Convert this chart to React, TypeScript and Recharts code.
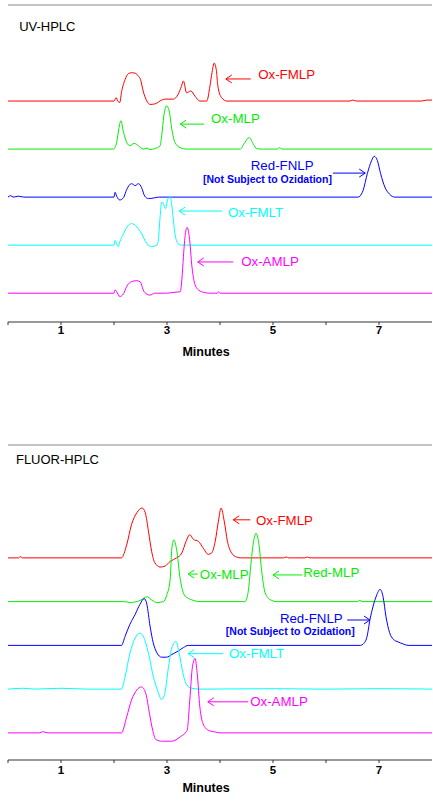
import React from 'react';
import { LineChart, Line, XAxis, YAxis, ReferenceLine, ReferenceDot } from 'recharts';

type Pt = [number, number];

const FONT = '"Liberation Sans", Arial, sans-serif';
const RED = '#ff0000';
const GREEN = '#00ee00';
const BLUE = '#0000ff';
const CYAN = '#00ffff';
const MAGENTA = '#ff00ff';

const minuteTicks = [0, 1, 2, 3, 4, 5, 6, 7];
const uvTicks = [10, 20, 30, 40, 50, 60];
const baselines = { red: 50, green: 40, blue: 30, cyan: 20, magenta: 10 };

// ---------- UV-HPLC traces: [minutes, signal above baseline] ----------
const uvRed: Pt[] = [
  [0, 0], [1, 0], [2.0, 0], [2.04, 0.7], [2.07, 0], [2.11, -0.3], [2.14, 1.75], [2.21, 4.5], [2.27, 5.7],
  [2.33, 5.9], [2.4, 5.8], [2.46, 5.2], [2.5, 4.5], [2.55, 2.1], [2.62, 0], [2.68, -0.7], [2.77, -0.6],
  [2.9, 0.2], [2.96, 0.4], [3.12, 0.4], [3.21, 1.4], [3.27, 3.0], [3.31, 4.2], [3.37, 1.7], [3.45, 2.1],
  [3.53, 1.0], [3.62, 0], [3.75, 0], [3.81, 3.1], [3.85, 6.0], [3.89, 7.9], [3.93, 6.5], [3.96, 3.1],
  [4.03, 0.7], [4.13, 0], [6.45, 0], [6.5, 0.2], [6.58, 0], [7.8, 0], [7.9, 0.2], [8, 0.2],
];
const uvGreen: Pt[] = [
  [0, 0], [1.99, 0], [2.05, 1.4], [2.09, 4.2], [2.13, 5.9], [2.18, 3.5], [2.24, 1.4], [2.3, 0.7],
  [2.38, 1.2], [2.46, 0.7], [2.55, 0], [2.62, 0.2], [2.68, -0.1], [2.77, 0.1], [2.87, 0.7], [2.9, 2.8],
  [2.94, 6.9], [2.99, 9.0], [3.04, 8.0], [3.09, 4.2], [3.15, 1.4], [3.25, 0.3], [3.37, 0], [4.38, 0],
  [4.47, 1.4], [4.55, 2.4], [4.63, 1.0], [4.69, 0.1], [4.8, 0], [5.08, 0], [5.12, 0.3], [5.17, 0], [8, 0],
];
const uvBlue: Pt[] = [
  [0, 0], [0.05, 0.3], [0.1, 0], [0.2, 0.2], [0.3, 0], [2.0, 0], [2.02, 1.0], [2.05, 0.2], [2.11, -0.6],
  [2.18, -0.1], [2.24, 1.6], [2.33, 2.8], [2.4, 2.4], [2.46, 2.8], [2.52, 2.0], [2.58, 0.2], [2.65, -0.3],
  [2.74, -0.2], [2.84, 0], [6.6, 0], [6.64, 0.2], [6.7, 1.4], [6.78, 4.9], [6.86, 7.6], [6.91, 8.5],
  [6.97, 7.6], [7.03, 4.9], [7.11, 2.1], [7.2, 0.6], [7.3, 0], [8, 0],
];
const uvCyan: Pt[] = [
  [0, 0], [2.0, 0], [2.02, 1.0], [2.05, 0.2], [2.08, -0.3], [2.11, 0.7], [2.18, 2.4], [2.24, 3.7],
  [2.33, 4.5], [2.43, 3.8], [2.52, 2.4], [2.62, 0.3], [2.71, -0.3], [2.81, 0], [2.84, 1.4], [2.87, 5.9],
  [2.9, 9.0], [2.93, 8.7], [2.97, 7.6], [3.01, 9.4], [3.06, 10.1], [3.1, 7.3], [3.15, 2.4], [3.21, 0.3],
  [3.27, 0], [8, 0],
];
const uvMagenta: Pt[] = [
  [0, 0], [2.0, 0], [2.02, 0.7], [2.05, 0.3], [2.11, -0.7], [2.18, -0.1], [2.24, 1.4], [2.33, 2.4],
  [2.43, 2.6], [2.5, 2.3], [2.55, 0.7], [2.62, -0.2], [2.68, -0.4], [2.77, 0], [2.99, 0], [3.15, 0.2],
  [3.25, 0.3], [3.28, 2.8], [3.31, 7.6], [3.34, 11.8], [3.38, 13.7], [3.42, 11.8], [3.47, 5.6], [3.52, 2.1],
  [3.59, 0.7], [3.72, 0.1], [3.8, 0], [3.95, 0], [3.97, 0.3], [4.0, 0], [8, 0],
];

// ---------- FLUOR-HPLC traces ----------
const flRed: Pt[] = [
  [0, 0], [0.2, 0], [0.23, 0.3], [0.27, 0], [2.14, 0], [2.24, 3.0], [2.33, 7.6], [2.43, 10.3], [2.53, 11.4],
  [2.59, 10.3], [2.65, 6.1], [2.71, 1.5], [2.77, -1.1], [2.87, -2.1], [2.96, -1.9], [3.06, -0.8], [3.18, 0],
  [3.28, 1.1], [3.36, 3.8], [3.43, 5.3], [3.5, 4.2], [3.59, 3.8], [3.68, 2.3], [3.78, 0.8], [3.84, 1.1],
  [3.91, 3.8], [3.97, 8.4], [4.02, 11.4], [4.08, 8.4], [4.14, 3.8], [4.22, 1.1], [4.31, 0.2], [4.4, 0],
  [5.2, 0], [5.25, 0.2], [5.3, 0], [5.6, 0], [5.65, 0.2], [5.7, 0], [8, 0],
];
const flGreen: Pt[] = [
  [0, 0], [2.2, 0], [2.3, -0.2], [2.5, 0.3], [2.62, 1.1], [2.72, 0.3], [2.81, -0.2], [2.93, 0], [2.99, 1.3],
  [3.06, 5.1], [3.09, 12.0], [3.13, 14.1], [3.18, 12.0], [3.25, 5.1], [3.34, 1.3], [3.47, 0.4], [3.62, 0],
  [4.47, 0], [4.53, 2.1], [4.58, 8.1], [4.63, 13.5], [4.68, 15.6], [4.73, 13.5], [4.79, 6.6], [4.85, 2.1],
  [4.94, 0.5], [5.07, 0], [6.6, 0], [6.64, 0.3], [6.68, 0], [8, 0],
];
const flBlue: Pt[] = [
  [0, 0], [2.14, 0], [2.21, 2.1], [2.3, 4.8], [2.4, 7.1], [2.49, 9.4], [2.57, 10.7], [2.62, 9.4],
  [2.68, 4.4], [2.74, 0.6], [2.81, -1.7], [2.9, -2.7], [2.99, -2.7], [3.09, -2.1], [3.21, -1.3],
  [3.31, -0.5], [3.4, 0], [6.65, 0], [6.7, 0.3], [6.77, 1.8], [6.83, 5.9], [6.89, 9.0], [6.95, 11.3],
  [7.02, 12.8], [7.08, 10.9], [7.13, 6.7], [7.2, 2.9], [7.27, 1.4], [7.36, 0.8], [7.46, 0.3], [7.55, 0], [8, 0],
];
const flCyan: Pt[] = [
  [0, 0], [0.3, 0.2], [0.5, 0], [1.0, 0.2], [1.5, 0], [2.14, 0], [2.21, 2.9], [2.3, 8.2], [2.4, 11.7],
  [2.49, 12.8], [2.58, 11.3], [2.67, 7.1], [2.74, 2.9], [2.82, -0.2], [2.9, -2.4], [2.96, -0.9], [3.03, 5.2],
  [3.09, 9.4], [3.17, 10.9], [3.23, 8.2], [3.3, 3.7], [3.37, 1.0], [3.47, 0.2], [3.6, 0], [5, 0.1], [6, 0],
  [7, 0.1], [8, 0],
];
const flMagenta: Pt[] = [
  [0, 0], [0.6, 0], [0.65, 0.3], [0.75, 0], [2.14, 0], [2.24, 3.7], [2.33, 7.5], [2.43, 9.8], [2.52, 10.5],
  [2.6, 9.0], [2.67, 4.4], [2.73, 0.6], [2.79, -1.5], [2.9, -1.9], [3.09, -1.9], [3.25, -0.9], [3.38, 0.6],
  [3.43, 7.5], [3.48, 15.1], [3.53, 17.0], [3.57, 13.6], [3.62, 5.9], [3.68, 2.1], [3.78, 0.6], [3.91, 0.2],
  [4.0, 0], [8, 0],
];

// ---------- annotations (minutes / signal units) ----------
type Note = { text: string; color: string; t: number; v: number; size?: number; bold?: boolean };
type Arrow = { color: string; tip: number; tail: number; v: number };

const uvNotes: Note[] = [
  { text: 'UV-HPLC', color: '#000', t: 0.21, v: 65.6, size: 13 },
  { text: 'Ox-FMLP', color: RED, t: 4.72, v: 55.6 },
  { text: 'Ox-MLP', color: GREEN, t: 3.83, v: 46.3 },
  { text: 'Red-FNLP', color: BLUE, t: 4.58, v: 36.5 },
  { text: '[Not Subject to Ozidation]', color: BLUE, t: 3.68, v: 33.75, size: 10.5, bold: true },
  { text: 'Ox-FMLT', color: CYAN, t: 4.15, v: 26.7 },
  { text: 'Ox-AMLP', color: MAGENTA, t: 4.4, v: 16.7 },
];
const uvArrows: Arrow[] = [
  { color: RED, tip: 4.11, tail: 4.58, v: 54.6 },
  { color: GREEN, tip: 3.25, tail: 3.7, v: 45.2 },
  { color: BLUE, tip: 6.74, tail: 6.13, v: 35.0 },
  { color: CYAN, tip: 3.23, tail: 4.04, v: 27.1 },
  { color: MAGENTA, tip: 3.58, tail: 4.25, v: 16.5 },
];
const flNotes: Note[] = [
  { text: 'FLUOR-HPLC', color: '#000', t: 0.15, v: 72.4, size: 13 },
  { text: 'Ox-FMLP', color: RED, t: 4.68, v: 58.5 },
  { text: 'Ox-MLP', color: GREEN, t: 3.62, v: 46.3 },
  { text: 'Red-MLP', color: GREEN, t: 5.57, v: 46.6 },
  { text: 'Red-FNLP', color: BLUE, t: 5.13, v: 36.1 },
  { text: '[Not Subject to Ozidation]', color: BLUE, t: 4.11, v: 33.3, size: 10.5, bold: true },
  { text: 'Ox-FMLT', color: CYAN, t: 4.17, v: 28.1 },
  { text: 'Ox-AMLP', color: MAGENTA, t: 4.57, v: 17.1 },
];
const flArrows: Arrow[] = [
  { color: RED, tip: 4.25, tail: 4.57, v: 58.7 },
  { color: GREEN, tip: 3.4, tail: 3.58, v: 46.3 },
  { color: GREEN, tip: 5.0, tail: 5.55, v: 46.1 },
  { color: BLUE, tip: 6.83, tail: 6.4, v: 35.8 },
  { color: CYAN, tip: 3.4, tail: 4.06, v: 28.1 },
  { color: MAGENTA, tip: 3.77, tail: 4.53, v: 17.1 },
];

type Trace = { key: string; color: string; base: number; pts: Pt[] };
const uvTraces: Trace[] = [
  { key: 'uvRed', color: RED, base: baselines.red, pts: uvRed },
  { key: 'uvGreen', color: GREEN, base: baselines.green, pts: uvGreen },
  { key: 'uvBlue', color: BLUE, base: baselines.blue, pts: uvBlue },
  { key: 'uvCyan', color: CYAN, base: baselines.cyan, pts: uvCyan },
  { key: 'uvMagenta', color: MAGENTA, base: baselines.magenta, pts: uvMagenta },
];
const flTraces: Trace[] = [
  { key: 'flRed', color: RED, base: baselines.red, pts: flRed },
  { key: 'flGreen', color: GREEN, base: baselines.green, pts: flGreen },
  { key: 'flBlue', color: BLUE, base: baselines.blue, pts: flBlue },
  { key: 'flCyan', color: CYAN, base: baselines.cyan, pts: flCyan },
  { key: 'flMagenta', color: MAGENTA, base: baselines.magenta, pts: flMagenta },
];

const toRows = (tr: Trace) => tr.pts.map(([t, h]) => ({ t, v: tr.base + h }));

const ArrowShape = (props: any) => {
  const { x1, y1, x2, y2, stroke } = props;
  if (x1 == null || y1 == null) return null;
  const dir = x2 > x1 ? 1 : -1;
  return (
    <g>
      <line x1={x1} y1={y1} x2={x2} y2={y2} stroke={stroke} strokeWidth={1} />
      <polyline
        points={`${x1 + dir * 6},${y1 - 4} ${x1},${y1} ${x1 + dir * 6},${y1 + 4}`}
        fill="none"
        stroke={stroke}
        strokeWidth={1}
      />
    </g>
  );
};

const makeText = (n: Note) => (p: any) => (
  <text
    x={p.cx}
    y={p.cy}
    fill={n.color}
    fontSize={n.size ?? 13.3}
    fontWeight={n.bold ? 700 : 400}
    fontFamily={FONT}
    dominantBaseline="central"
  >
    {n.text}
  </text>
);

const MinutesLabel = (props: any) => {
  const vb = props.viewBox || {};
  const x = (vb.x ?? 8) + props.dxPx;
  const y = (vb.y ?? props.fallbackY) + props.dyPx;
  return (
    <text x={x} y={y} textAnchor="middle" dominantBaseline="central" fontFamily={FONT} fontSize={12.5} fontWeight={700} fill="#000">
      Minutes
    </text>
  );
};

const tickFmt = (v: number) => (v % 2 === 1 ? String(v) : '');

type PanelProps = {
  height: number;
  yDomain: [number, number];
  yTicks?: number[];
  traces: Trace[];
  notes: Note[];
  arrows: Arrow[];
  tickMargin: number;
  labelDy: number;
  axisY: number;
};

const Panel = ({ height, yDomain, yTicks, traces, notes, arrows, tickMargin, labelDy, axisY }: PanelProps) => (
  <LineChart width={433} height={height} margin={{ top: 5, right: 1, left: 8, bottom: 0 }}>
    <XAxis
      dataKey="t"
      type="number"
      domain={[0, 8]}
      allowDataOverflow
      ticks={minuteTicks}
      interval={0}
      tickFormatter={tickFmt}
      tickSize={3}
      tickMargin={tickMargin}
      height={38}
      stroke="#333"
      tick={{ fontSize: 11.5, fontWeight: 700, fill: '#000', fontFamily: FONT }}
      label={<MinutesLabel dxPx={198} dyPx={labelDy} fallbackY={axisY} />}
    />
    <YAxis
      type="number"
      domain={yDomain}
      allowDataOverflow
      width={0}
      ticks={yTicks}
      tickSize={3}
      tickLine={!!yTicks}
      tickFormatter={() => ''}
      stroke="#333"
    />
    <ReferenceLine y={yDomain[1]} stroke="#888" strokeWidth={1} />
    {traces.map((tr) => (
      <Line
        key={tr.key}
        data={toRows(tr)}
        dataKey="v"
        type="monotone"
        stroke={tr.color}
        strokeWidth={1}
        dot={false}
        activeDot={false}
        isAnimationActive={false}
      />
    ))}
    {arrows.map((a, i) => (
      <ReferenceLine
        key={`a${i}`}
        segment={[{ x: a.tip, y: a.v }, { x: a.tail, y: a.v }]}
        stroke={a.color}
        shape={ArrowShape}
      />
    ))}
    {notes.map((n, i) => (
      <ReferenceDot key={`n${i}`} x={n.t} y={n.v} r={0} shape={makeText(n)} />
    ))}
  </LineChart>
);

export default function App() {
  return (
    <div style={{ position: 'absolute', left: 0, top: 0, width: 433, height: 802, background: '#fff' }}>
      <div style={{ position: 'absolute', left: 0, top: 0 }}>
        <Panel
          height={360}
          yDomain={[4, 70]}
          yTicks={uvTicks}
          traces={uvTraces}
          notes={uvNotes}
          arrows={uvArrows}
          tickMargin={1}
          labelDy={30}
          axisY={322}
        />
      </div>
      <div style={{ position: 'absolute', left: 0, top: 440 }}>
        <Panel
          height={358}
          yDomain={[3.8, 75.8]}
          traces={flTraces}
          notes={flNotes}
          arrows={flArrows}
          tickMargin={3}
          labelDy={28}
          axisY={320}
        />
      </div>
    </div>
  );
}
